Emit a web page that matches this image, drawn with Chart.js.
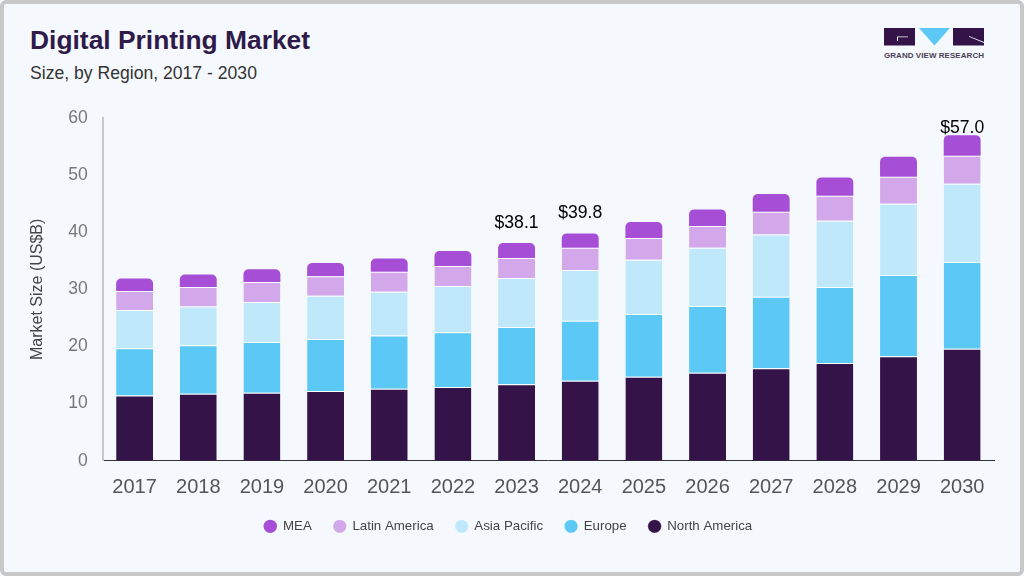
<!DOCTYPE html>
<html>
<head>
<meta charset="utf-8">
<title>Digital Printing Market</title>
<script src="https://cdn.jsdelivr.net/npm/chart.js@4"></script>
<style>
    html, body { margin: 0; padding: 0; }
    body { width: 1024px; height: 576px; overflow: hidden; background: #f5f9fd; font-family: "Liberation Sans", sans-serif; }
    .frame { position: absolute; left: 0; top: 0; width: 1024px; height: 576px; box-sizing: border-box; border: 4px solid #c8c8c8; border-radius: 6px; pointer-events: none; }
    h1 { position: absolute; left: 30px; top: 24px; margin: 0; font-size: 26.4px; line-height: 32px; font-weight: bold; color: #2f1a4a; }
    h2 { position: absolute; left: 30px; top: 63px; margin: 0; font-size: 17.6px; line-height: 20px; font-weight: normal; color: #333; }
    #logo { position: absolute; left: 884px; top: 28px; }
    canvas { position: absolute; left: 0; top: 0; }
</style>
</head>
<body>
<h1>Digital Printing Market</h1>
<h2>Size, by Region, 2017 - 2030</h2>
<svg id="logo" width="101" height="33" viewBox="0 0 101 33">
    <rect x="0" y="0" width="31" height="17.5" fill="#341349"/>
    <path d="M13 8.5H24V9.2H14V13H13Z" fill="#f5f9fd"/>
    <polygon points="35,0 66,0 50.5,17.5" fill="#5bc8f5"/>
    <rect x="69" y="0" width="31" height="17.5" fill="#341349"/>
    <path d="M85 8L100 14V15L85 8.8Z" fill="#f5f9fd"/>
    <text x="0" y="29.5" font-family="Liberation Sans" font-size="8" font-weight="bold" textLength="100" fill="#4a4058">GRAND VIEW RESEARCH</text>
</svg>
<canvas id="chart" width="1024" height="576"></canvas>
<div class="frame"></div>
<script>
const years = ['2017','2018','2019','2020','2021','2022','2023','2024','2025','2026','2027','2028','2029','2030'];
const northAmerica = [11.4, 11.7, 11.9, 12.2, 12.6, 12.9, 13.4, 14.0, 14.7, 15.4, 16.2, 17.1, 18.3, 19.6];
const europe = [8.3, 8.5, 8.9, 9.1, 9.3, 9.6, 10.0, 10.5, 11.0, 11.7, 12.5, 13.3, 14.2, 15.2];
const asiaPacific = [6.7, 6.8, 7.0, 7.6, 7.7, 8.1, 8.6, 8.9, 9.5, 10.2, 10.9, 11.6, 12.5, 13.7];
const latinAmerica = [3.3, 3.4, 3.5, 3.4, 3.5, 3.5, 3.5, 3.9, 3.8, 3.8, 4.0, 4.4, 4.7, 4.9];
const mea = [2.2, 2.2, 2.2, 2.3, 2.3, 2.6, 2.6, 2.5, 2.8, 2.9, 3.1, 3.2, 3.5, 3.6];
const labelYears = ['2023', '2024', '2030'];
const labelTexts = ['$38.1', '$39.8', '$57.0'];
const yTicks = [0, 10, 20, 30, 40, 50, 60];

function segment(label, data, color) {
    return {
        label: label,
        data: data,
        backgroundColor: color,
        borderColor: '#ffffff',
        borderWidth: { top: 1 },
        borderSkipped: false,
        categoryPercentage: 0.58,
        barPercentage: 1
    };
}

// $ labels above selected stacks
const totalLabels = {
    id: 'totalLabels',
    afterDatasetsDraw(chart) {
        const ctx = chart.ctx;
        ctx.save();
        ctx.font = '17.6px "Liberation Sans"';
        ctx.fillStyle = '#000';
        ctx.textAlign = 'center';
        ctx.textBaseline = 'middle';
        labelYears.forEach((year, n) => {
            const i = years.indexOf(year);
            const total = chart.data.datasets.reduce((sum, d) => sum + d.data[i], 0);
            const y = chart.scales.y.getPixelForValue(total) - 20;
            ctx.fillText(labelTexts[n], chart.scales.x.getPixelForValue(i), Math.max(y, 128));
        });
        ctx.restore();
    }
};

const meaSegment = segment('MEA', mea, '#a64fd6');
meaSegment.borderWidth = 0;
meaSegment.borderRadius = { topLeft: 5, topRight: 5 };

new Chart(document.getElementById('chart').getContext('2d'), {
    type: 'bar',
    data: {
        labels: years,
        datasets: [
            segment('North America', northAmerica, '#341349'),
            segment('Europe', europe, '#5bc8f5'),
            segment('Asia Pacific', asiaPacific, '#bfe9fa'),
            segment('Latin America', latinAmerica, '#d3a8ea'),
            meaSegment
        ]
    },
    options: {
        responsive: false,
        animation: false,
        layout: { padding: { top: 118, right: 30, left: 22.5, bottom: 33 } },
        plugins: {
            title: { display: false },
            tooltip: { enabled: false },
            legend: {
                position: 'bottom',
                reverse: true,
                labels: {
                    usePointStyle: true,
                    pointStyle: 'circle',
                    boxWidth: 12,
                    boxHeight: 9.5,
                    padding: 22,
                    color: '#444',
                    font: { family: '"Liberation Sans"', size: 13.3 }
                }
            }
        },
        scales: {
            x: {
                stacked: true,
                grid: { display: false },
                border: { color: '#333', width: 1 },
                afterFit(axis) { axis.height = 37; },
                ticks: { color: '#555', padding: 7, maxRotation: 0, font: { family: '"Liberation Sans"', size: 20 } }
            },
            y: {
                stacked: true,
                min: 0,
                max: 60,
                afterBuildTicks(axis) { axis.ticks = yTicks.map(v => ({ value: v })); },
                grid: { display: false },
                border: { color: '#c8c8c8', width: 2 },
                title: { display: true, text: 'Market Size (US$B)', color: '#444', padding: { top: 5.5, bottom: 14 }, font: { family: '"Liberation Sans"', size: 16 } },
                ticks: { color: '#777', padding: 7, font: { family: '"Liberation Sans"', size: 17.6 } }
            }
        }
    },
    plugins: [totalLabels]
});
</script>
</body>
</html>
